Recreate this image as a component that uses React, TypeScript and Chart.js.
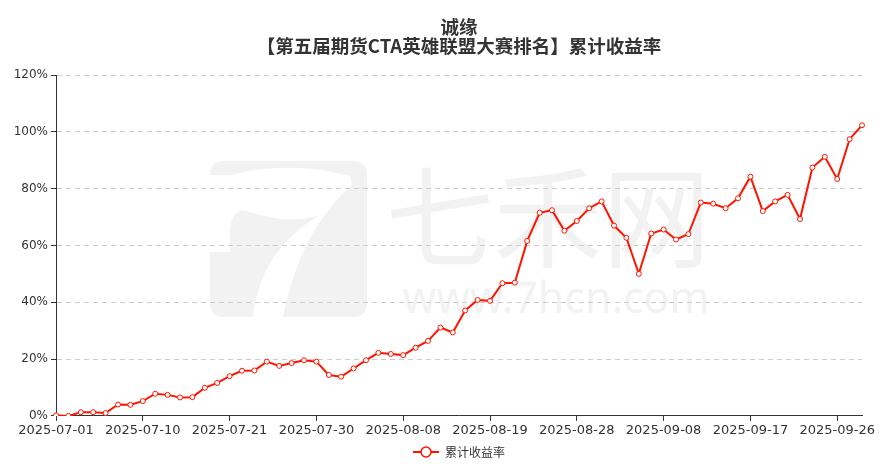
import React, { useEffect, useRef } from "react";
import { Chart, registerables } from "chart.js";

Chart.register(...registerables);

const dates: string[] = [
  "2025-07-01", "2025-07-02", "2025-07-03", "2025-07-04", "2025-07-07", "2025-07-08", "2025-07-09",
  "2025-07-10", "2025-07-11", "2025-07-14", "2025-07-15", "2025-07-16", "2025-07-17", "2025-07-18",
  "2025-07-21", "2025-07-22", "2025-07-23", "2025-07-24", "2025-07-25", "2025-07-28", "2025-07-29",
  "2025-07-30", "2025-07-31", "2025-08-01", "2025-08-04", "2025-08-05", "2025-08-06", "2025-08-07",
  "2025-08-08", "2025-08-11", "2025-08-12", "2025-08-13", "2025-08-14", "2025-08-15", "2025-08-18",
  "2025-08-19", "2025-08-20", "2025-08-21", "2025-08-22", "2025-08-25", "2025-08-26", "2025-08-27",
  "2025-08-28", "2025-08-29", "2025-09-01", "2025-09-02", "2025-09-03", "2025-09-04", "2025-09-05",
  "2025-09-08", "2025-09-09", "2025-09-10", "2025-09-11", "2025-09-12", "2025-09-15", "2025-09-16",
  "2025-09-17", "2025-09-18", "2025-09-19", "2025-09-22", "2025-09-23", "2025-09-24", "2025-09-25",
  "2025-09-26", "2025-09-29", "2025-09-30",
];

const cumulativeReturn: number[] = [
  0.2, 0.0, 1.3, 1.3, 1.0, 4.0, 3.9,
  5.2, 7.8, 7.4, 6.5, 6.6, 9.9, 11.6,
  14.0, 15.9, 16.0, 19.1, 17.6, 18.6, 19.6,
  19.1, 14.4, 13.8, 16.7, 19.6, 22.2, 21.8,
  21.4, 24.0, 26.4, 31.1, 29.4, 37.1, 40.8,
  40.5, 46.7, 46.9, 61.6, 71.5, 72.4, 65.2,
  68.6, 73.1, 75.5, 67.0, 62.7, 50.0, 64.2,
  65.6, 62.1, 64.0, 75.1, 74.7, 73.1, 76.6,
  84.2, 72.1, 75.5, 77.8, 69.3, 87.4, 91.2,
  83.4, 97.4, 102.3,
];

const yTicks: number[] = [0, 20, 40, 60, 80, 100, 120];
const titleLines: string[] = ["诚缘", "【第五届期货CTA英雄联盟大赛排名】累计收益率"];
const seriesName = "累计收益率";
const LABEL_STEP = 7;

const RED = "#ff1400";
const TEXT = "#333333";

function makeLegendIcon(): HTMLCanvasElement {
  const c = document.createElement("canvas");
  c.width = 26;
  c.height = 14;
  const ctx = c.getContext("2d")!;
  ctx.strokeStyle = RED;
  ctx.lineWidth = 2;
  ctx.beginPath();
  ctx.moveTo(0, 7);
  ctx.lineTo(26, 7);
  ctx.stroke();
  ctx.beginPath();
  ctx.arc(13, 7, 5, 0, Math.PI * 2);
  ctx.fillStyle = "#ffffff";
  ctx.fill();
  ctx.lineWidth = 1.5;
  ctx.stroke();
  return c;
}

const watermarkPlugin = {
  id: "watermark",
  beforeDraw(chart: any) {
    const ctx = chart.ctx as CanvasRenderingContext2D;
    ctx.save();
    const wm = "#f2f2f2";
    const x0 = 210, y0 = 161, x1 = 367, y1 = 317, r = 14;
    ctx.fillStyle = wm;
    ctx.beginPath();
    ctx.moveTo(x0 + r, y0);
    ctx.lineTo(x1 - r, y0);
    ctx.quadraticCurveTo(x1, y0, x1, y0 + r);
    ctx.lineTo(x1, y1 - r);
    ctx.quadraticCurveTo(x1, y1, x1 - r, y1);
    ctx.lineTo(x0 + r, y1);
    ctx.quadraticCurveTo(x0, y1, x0, y1 - r);
    ctx.lineTo(x0, y0 + r);
    ctx.quadraticCurveTo(x0, y0, x0 + r, y0);
    ctx.closePath();
    ctx.fill();
    ctx.fillStyle = "#ffffff";
    ctx.beginPath();
    ctx.moveTo(210, 175);
    ctx.lineTo(230, 175);
    ctx.quadraticCurveTo(290, 160, 350, 176);
    ctx.lineTo(352, 185);
    ctx.quadraticCurveTo(300, 230, 283, 317);
    ctx.lineTo(253, 317);
    ctx.quadraticCurveTo(260, 250, 320, 215);
    ctx.quadraticCurveTo(290, 225, 250, 212);
    ctx.quadraticCurveTo(232, 205, 230, 230);
    ctx.lineTo(230, 252);
    ctx.lineTo(210, 252);
    ctx.closePath();
    ctx.fill();
    ctx.fillStyle = wm;
    ctx.textAlign = "center";
    ctx.textBaseline = "middle";
    ctx.font = "110px 'Noto Sans CJK SC'";
    ctx.fillText("七禾网", 548, 217, 325);
    ctx.font = "44px 'Noto Sans'";
    ctx.fillText("www.7hcn.com", 556, 300, 307);
    ctx.restore();
  },
};

export default function App() {
  const canvasRef = useRef<HTMLCanvasElement | null>(null);

  useEffect(() => {
    const canvas = canvasRef.current;
    if (!canvas) return;
    const icon = makeLegendIcon();
    const chart = new Chart(canvas, {
      type: "line",
      data: {
        labels: dates,
        datasets: [
          {
            label: seriesName,
            data: cumulativeReturn,
            borderColor: RED,
            backgroundColor: "#ffffff",
            borderWidth: 2,
            pointRadius: 2.5,
            pointBorderWidth: 1,
            pointBorderColor: RED,
            pointBackgroundColor: "#ffffff",
            tension: 0,
          },
        ],
      },
      options: {
        responsive: false,
        animation: false,
        devicePixelRatio: 1,
        layout: { padding: { left: 0, right: 30, top: 8, bottom: -4 } },
        plugins: {
          title: {
            display: true,
            fullSize: false,
            text: titleLines,
            color: TEXT,
            font: { family: "'Noto Sans CJK SC'", size: 18.5, weight: "bold", lineHeight: 1.0 },
            padding: { top: 10, bottom: 20 },
          },
          legend: {
            display: true,
            position: "bottom",
            fullSize: false,
            labels: {
              usePointStyle: true,
              pointStyle: icon as any,
              pointStyleWidth: 26,
              color: TEXT,
              font: { family: "'Noto Sans CJK SC'", size: 12 },
              padding: 0,
            },
          },
          tooltip: { enabled: false },
        },
        scales: {
          x: {
            type: "category",
            offset: false,
            afterFit: (s: any) => {
              s.height += 5.5;
            },
            grid: {
              display: true,
              drawOnChartArea: false,
              drawTicks: true,
              tickLength: 5,
              color: (c: any) => (c.index % LABEL_STEP === 0 ? "#333333" : "rgba(0,0,0,0)"),
              tickColor: (c: any) => (c.index % LABEL_STEP === 0 ? "#333333" : "rgba(0,0,0,0)"),
            },
            border: { display: true, color: "#333333", width: 1 },
            ticks: {
              autoSkip: false,
              maxRotation: 0,
              minRotation: 0,
              color: TEXT,
              padding: 2,
              font: { family: "'DejaVu Sans'", size: 13 },
              callback: (_v: any, i: number) => (i % LABEL_STEP === 0 ? dates[i] : ""),
            },
          },
          y: {
            min: 0,
            max: 120,
            afterBuildTicks: (s: any) => {
              s.ticks = yTicks.map((v) => ({ value: v }));
            },
            afterFit: (s: any) => {
              s.width = 56;
            },
            grid: {
              color: "#cccccc",
              lineWidth: 1,
              drawTicks: true,
              tickLength: 5,
              tickColor: "#333333",
              tickBorderDash: [],
            },
            border: { display: true, color: "#333333", width: 1, dash: [5, 4] },
            ticks: {
              color: TEXT,
              padding: 3,
              font: { family: "'DejaVu Sans'", size: 12 },
              callback: (v: any) => `${v}%`,
            },
          },
        },
      },
      plugins: [watermarkPlugin],
    });
    return () => chart.destroy();
  }, []);

  return (
    <div style={{ position: "fixed", left: 0, top: 0, width: 892, height: 464, background: "#ffffff" }}>
      <canvas ref={canvasRef} width={892} height={464} style={{ display: "block" }} />
    </div>
  );
}
